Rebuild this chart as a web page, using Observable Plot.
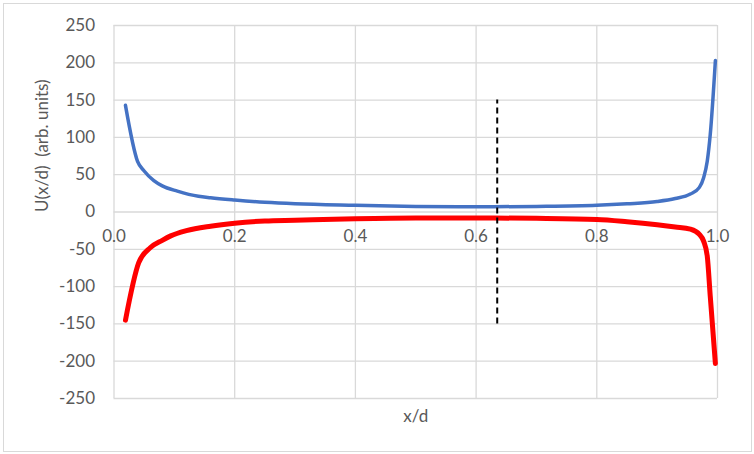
<!DOCTYPE html>
<html>
<head>
<meta charset="utf-8">
<script src="https://cdn.jsdelivr.net/npm/d3@7"></script>
<script src="https://cdn.jsdelivr.net/npm/@observablehq/plot@0.6"></script>
<style>
  html, body { margin: 0; padding: 0; background: #fff; }
  #wrap { position: relative; width: 754px; height: 454px; }
  #border { position: absolute; left: 3px; top: 3px; width: 747px; height: 447px; border: 1px solid #d9d9d9; pointer-events: none; }
</style>
</head>
<body>
<div id="wrap"><div id="border"></div></div>
<script>
const xTicks = [0, 0.2, 0.4, 0.6, 0.8, 1.0];
const yTicks = [-250, -200, -150, -100, -50, 0, 50, 100, 150, 200, 250];

const blueX = [0.019, 0.039, 0.05, 0.066, 0.08, 0.105, 0.14, 0.16, 0.2, 0.25, 0.3, 0.4, 0.5, 0.6, 0.7, 0.8, 0.85, 0.9, 0.93, 0.955, 0.97, 0.977, 0.983, 0.988, 0.9965];
const blueY = [143, 68, 55, 42, 35, 28, 21, 19, 16, 13, 11, 9, 7.5, 7, 7.5, 9, 11, 14, 18, 24, 33, 46, 68, 104, 203];

const redX = [0.019, 0.041, 0.06, 0.08, 0.094, 0.12, 0.16, 0.2, 0.25, 0.3, 0.4, 0.5, 0.6, 0.7, 0.8, 0.85, 0.9, 0.93, 0.955, 0.97, 0.977, 0.983, 0.988, 0.9965];
const redY = [-145, -68, -48, -38, -32, -25, -19, -15, -12, -11, -9, -8, -8, -8.5, -10, -13, -17, -20, -23, -30, -39, -59, -113, -203];

const markerX = [0.635];
const markerRange = [-150, 150];

const xLabel = "x/d";
const yLabel = "U(x/d)  (arb. units)";

const blue = blueX.map((x, i) => ({x, y: blueY[i]}));
const red = redX.map((x, i) => ({x, y: redY[i]}));

const FS = 17;

const chart = Plot.plot({
  width: 754,
  height: 454,
  marginLeft: 113.5,
  marginRight: 37,
  marginTop: 25,
  marginBottom: 56,
  x: {domain: [0, 1], axis: null},
  y: {domain: [-250, 250]},
  style: {fontFamily: "Lato, 'Open Sans', sans-serif", fontSize: FS + "px", color: "#595959", background: "transparent"},
  marks: [
    Plot.ruleX(xTicks, {stroke: "#d9d9d9", strokeWidth: 1.3}),
    Plot.ruleY(yTicks, {stroke: "#d9d9d9", strokeWidth: 1.3}),
    Plot.axisY({ticks: yTicks, tickSize: 0, tickPadding: 19, tickFormat: d => String(d), label: null, fontSize: FS}),
    Plot.text(xTicks, {x: d => d, y: () => 0, dy: 25, text: d => d.toFixed(1), fontSize: FS, fill: "#595959"}),
    Plot.line(blue, {x: "x", y: "y", stroke: "#4472C4", strokeWidth: 3.5, strokeLinecap: "round", strokeLinejoin: "round", curve: "monotone-x"}),
    Plot.line(red, {x: "x", y: "y", stroke: "#FF0000", strokeWidth: 5, strokeLinecap: "round", strokeLinejoin: "round", curve: "monotone-x"}),
    Plot.ruleX(markerX, {y1: markerRange[0], y2: markerRange[1], stroke: "#000", strokeWidth: 2, strokeDasharray: "6,4"}),
    Plot.text([xLabel], {frameAnchor: "bottom", dy: 18, lineAnchor: "middle", text: d => d, fontSize: FS, fill: "#595959"}),
    Plot.text([yLabel], {frameAnchor: "left", dx: -71, rotate: -90, lineAnchor: "middle", text: d => d, fontSize: FS, fill: "#595959"})
  ]
});
document.getElementById("wrap").appendChild(chart);
</script>
</body>
</html>
